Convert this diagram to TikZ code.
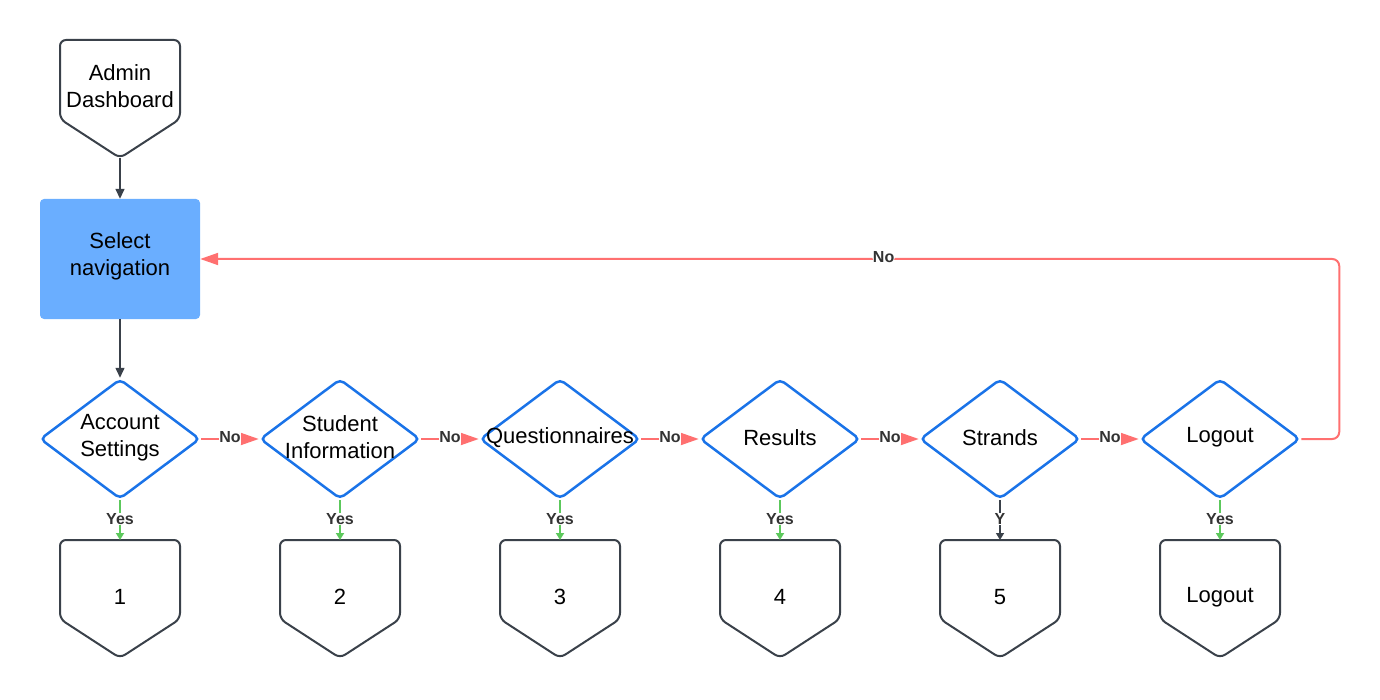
\documentclass[tikz,border=0pt]{standalone}
\usepackage{fontspec}
\setmainfont{Liberation Sans}
\usetikzlibrary{shapes.geometric,arrows.meta,calc}
\definecolor{dg}{HTML}{3A414A}
\definecolor{bl}{HTML}{1A73E8}
\definecolor{rd}{HTML}{FF7070}
\definecolor{gn}{HTML}{5CC85C}
\definecolor{selc}{HTML}{6AAEFF}
\definecolor{labc}{HTML}{333333}
\tikzset{
  x=1pt,y=-1pt,
  txt/.style={font=\fontsize{22}{27}\selectfont, align=center, text=black},
  dtxt/.style={txt, yshift=1.5pt},
  decision/.style={diamond, draw=bl, line width=2.5pt, rounded corners=5pt,
    minimum width=160pt, minimum height=120pt, inner sep=0pt},
  opbox/.style={rectangle, minimum width=120pt, minimum height=118pt, inner sep=0pt, outer sep=0pt},
  outline/.style={draw=dg, line width=2pt, rounded corners=6pt},
  selbox/.style={rectangle, fill=selc, rounded corners=4pt, minimum width=160pt, minimum height=120pt, inner sep=0pt},
  lab/.style={font=\fontsize{16}{18}\selectfont\bfseries, text=labc, fill=white, inner sep=0.5pt, yshift=1.5pt},
  darr/.style={draw=dg, line width=1.5pt, -{Triangle[length=10pt,width=9pt]}},
  rarr/.style={draw=rd, line width=2pt, -{Triangle[length=18pt,width=12pt]}},
  garr/.style={draw=gn, line width=2pt, -{Triangle[length=7pt,width=8pt]}},
  ydarr/.style={draw=dg, line width=1.5pt, -{Triangle[length=7pt,width=8pt]}},
}
\newcommand\offpagedraw[1]{%
  \draw[outline] (#1.north west) -- ($(#1.north west)+(0,79)$) -- (#1.south)
    -- ($(#1.north east)+(0,79)$) -- (#1.north east) -- cycle;}
\begin{document}
\begin{tikzpicture}
\useasboundingbox (0,0) rectangle (1380,700);
% start
\node[opbox] (ad) at (120,99) {};
\offpagedraw{ad}
\node[txt] (adt) at (120,86) {Admin\\Dashboard};
\node[selbox] (sn) at (120,259) {};
\node[txt] (snt) at (120,256) {Select\\navigation};
% decisions
\node[decision, label={[dtxt]center:Account\\Settings}] (d1) at (120,439) {};
\node[decision, label={[dtxt]center:Student\\Information}] (d2) at (340,439) {};
\node[decision, label={[dtxt]center:Questionnaires}] (d3) at (560,439) {};
\node[decision, label={[dtxt]center:Results}] (d4) at (780,439) {};
\node[decision, label={[dtxt]center:Strands}] (d5) at (1000,439) {};
\node[decision, label={[dtxt]center:Logout}] (d6) at (1220,439) {};
% outcomes
\foreach \i/\x/\t in {1/120/1,2/340/2,3/560/3,4/780/4,5/1000/5,6/1220/Logout}{
  \node[opbox] (o\i) at (\x,599) {};
  \offpagedraw{o\i}
  \node[txt] (ot\i) at (\x,597) {\t};
}
% connectors
\draw[darr] (ad.south) -- (sn.north);
\draw[darr] (sn.south) -- (d1.north);
\draw[rarr] (d1.east) -- node[lab]{No} (d2.west);
\draw[rarr] (d2.east) -- node[lab]{No} (d3.west);
\draw[rarr] (d3.east) -- node[lab]{No} (d4.west);
\draw[rarr] (d4.east) -- node[lab]{No} (d5.west);
\draw[rarr] (d5.east) -- node[lab]{No} (d6.west);
\draw[garr] (d1.south) -- node[lab]{Yes} (o1.north);
\draw[garr] (d2.south) -- node[lab]{Yes} (o2.north);
\draw[garr] (d3.south) -- node[lab]{Yes} (o3.north);
\draw[garr] (d4.south) -- node[lab]{Yes} (o4.north);
\draw[ydarr] (d5.south) -- node[lab]{Y} (o5.north);
\draw[garr] (d6.south) -- node[lab]{Yes} (o6.north);
\draw[rarr, rounded corners=7pt] (d6.east) -- ++(38,0) |- node[lab, pos=0.70]{No} (sn.east);
\end{tikzpicture}
\end{document}
